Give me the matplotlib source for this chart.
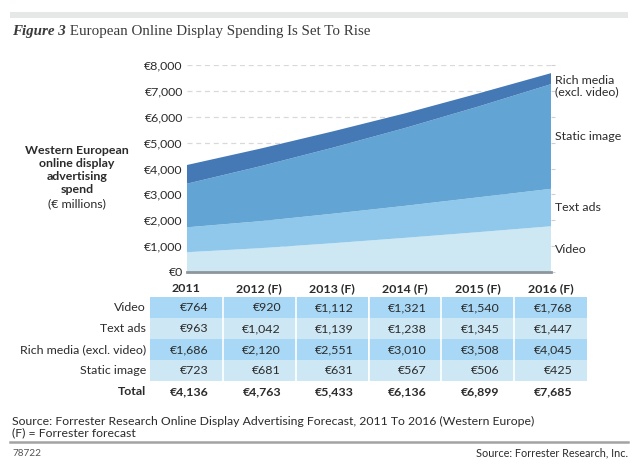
import matplotlib
matplotlib.use("Agg")
import matplotlib.pyplot as plt
from matplotlib.patches import Rectangle
from matplotlib.text import Annotation

# Datos
years = ['2011', '2012 (F)', '2013 (F)', '2014 (F)', '2015 (F)', '2016 (F)']
video = [764, 920, 1112, 1321, 1540, 1768]
text_ads = [963, 1042, 1139, 1238, 1345, 1447]
rich_media = [1686, 2120, 2551, 3010, 3508, 4045]
static_image = [723, 681, 631, 567, 506, 425]
row_names = ['Video', 'Text ads', 'Rich media (excl. video)', 'Static image']
area_labels = ['Video', 'Text ads', 'Static image', 'Rich media\n(excl. video)']
yticks = [0, 1000, 2000, 3000, 4000, 5000, 6000, 7000, 8000]

area_colors = ['#cde7f3', '#8fc8eb', '#62a5d4', '#4579b5']
row_colors = ['#a8d8f5', '#cde8f4']
txt = '#2b2b2b'
sans = 'Lato'
serif = 'Liberation Serif'
fs = 8.9

W, H = 640, 468
def fx(x): return x / W
def fy(y): return 1 - y / H

fig = plt.figure(figsize=(6.4, 4.68), dpi=100)

# Barra gris superior y titulo
fig.patches.append(Rectangle((fx(10), fy(18)), fx(618), 6 / H, transform=fig.transFigure,
                             fc='#e6e7e7', ec='none'))
t1 = fig.text(fx(12), fy(32), 'Figure 3', family=serif, style='italic', weight='bold',
              fontsize=10.8, color='#3a3a3a', va='center')
fig.add_artist(Annotation(' European Online Display Spending Is Set To Rise', xy=(1, 0.5),
                          xycoords=t1, va='center', ha='left', family=serif, fontsize=10.8,
                          color='#3a3a3a'))

# Grafico de areas
ax = fig.add_axes([fx(187), fy(272), (551 - 187) / W, (272 - 65) / H])
x = list(range(len(years)))
layers = [video, text_ads, rich_media, static_image]
ax.stackplot(x, *layers, colors=area_colors, zorder=2)
ax.set_xlim(0, len(years) - 1)
ax.set_ylim(0, 8000)
ax.set_yticks(yticks)
ax.set_yticklabels([f'€{v:,}' for v in yticks], family=sans, fontsize=fs, color=txt)
ax.set_xticks([])
ax.grid(axis='y', color='#d9d9d9', linestyle=(0, (4, 3)), lw=0.9, zorder=0)
ax.tick_params(axis='y', left=False, right=True, length=3, color='#d0d0d0', pad=0)
for s in ['left', 'top', 'right']:
    ax.spines[s].set_visible(False)
ax.spines['bottom'].set_color('#8e969c')
ax.spines['bottom'].set_linewidth(2)
ax.spines['bottom'].set_zorder(3)

# Etiquetas a la derecha
base = 0
for i, (lay, lab) in enumerate(zip(layers, area_labels)):
    lo = base
    hi = base + lay[-1]
    if i == len(layers) - 1:
        ax.annotate(lab, xy=(x[-1], hi), xytext=(3, -1), textcoords='offset points',
                    va='top', ha='left', family=sans, fontsize=fs, color=txt,
                    annotation_clip=False, linespacing=1.1)
    else:
        ax.annotate(lab, xy=(x[-1], (lo + hi) / 2), xytext=(3, 0), textcoords='offset points',
                    va='center', ha='left', family=sans, fontsize=fs, color=txt,
                    annotation_clip=False)
    base = hi

# Etiqueta del eje y
ylab = ['Western European', 'online display', 'advertising', 'spend']
for i, l in enumerate(ylab):
    fig.text(fx(77), fy(150 + i * 13.3), l, family=sans, weight='bold', fontsize=fs,
             color=txt, ha='center', va='center')
fig.text(fx(77), fy(204), '(€ millions)', family=sans, fontsize=fs, color=txt,
         ha='center', va='center')

# Tabla
tax = fig.add_axes([fx(150), fy(402), (587 - 150) / W, (402 - 276) / H])
tax.set_xlim(0, len(years))
tax.set_ylim(5, -1)
tax.axis('off')
for c, yr in enumerate(years):
    tax.text(c + 0.5, -0.4, yr, ha='center', va='center', family=sans, weight='bold',
             fontsize=fs, color=txt)
for r, (name, vals) in enumerate(zip(row_names, layers)):
    tax.text(-0.055, r + 0.5, name, ha='right', va='center', family=sans, fontsize=fs,
             color=txt, clip_on=False)
    for c, v in enumerate(vals):
        tax.add_patch(Rectangle((c, r), 1, 1, fc=row_colors[r % 2], ec='none'))
        tax.text(c + 0.8, r + 0.5, f'€{v:,}', ha='right', va='center', family=sans,
                 fontsize=fs, color=txt)
for c in range(1, len(years)):
    tax.plot([c, c], [0, len(row_names)], color='white', lw=1.2)
totals = [sum(v) for v in zip(*layers)]
tax.text(-0.055, 4.5, 'Total', ha='right', va='center', family=sans, weight='bold',
         fontsize=fs, color=txt, clip_on=False)
for c, v in enumerate(totals):
    tax.text(c + 0.8, 4.5, f'€{v:,}', ha='right', va='center', family=sans, weight='bold',
             fontsize=fs, color=txt)

# Pie
fig.text(fx(12), fy(421), 'Source: Forrester Research Online Display Advertising Forecast, '
         '2011 To 2016 (Western Europe)', family=sans, fontsize=8.8, color=txt, va='center')
fig.text(fx(12), fy(433), '(F) = Forrester forecast', family=sans, fontsize=8.8, color=txt,
         va='center')
fig.add_artist(plt.Line2D([fx(10), fx(628)], [fy(442), fy(442)], transform=fig.transFigure,
                          color='#a3a3a3', lw=1.8))
fig.text(fx(12), fy(453), '78722', family=sans, fontsize=7.2, color='#555555', va='center')
fig.text(fx(628), fy(453), 'Source: Forrester Research, Inc.', family=sans, fontsize=7.8,
         color=txt, va='center', ha='right')

fig.savefig('out.png', dpi=100)
